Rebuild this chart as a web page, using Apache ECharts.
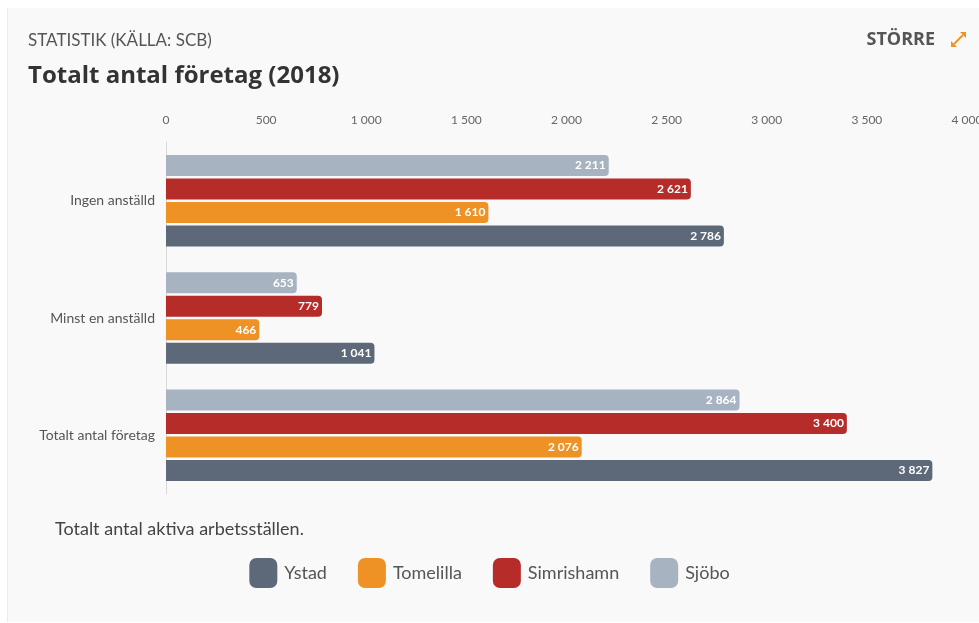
<!DOCTYPE html>
<html>
<head>
<meta charset="utf-8">
<script src="https://cdn.jsdelivr.net/npm/echarts@6/dist/echarts.min.js"></script>
<style>
html,body{margin:0;padding:0;background:#ffffff;overflow:hidden;}
#panel{position:absolute;left:7px;top:8px;width:972px;height:614px;background:#f9f9fa;border-left:1px solid #ececee;box-sizing:border-box;}
#chart{position:absolute;left:0;top:0;width:979px;height:623px;}
</style>
</head>
<body>
<div id="panel"></div>
<div id="chart"></div>
<script>
const categories = ['Ingen anställd', 'Minst en anställd', 'Totalt antal företag'];
const seriesNames = ['Ystad', 'Tomelilla', 'Simrishamn', 'Sjöbo'];
const ystad = [2786, 1041, 3827];
const tomelilla = [1610, 466, 2076];
const simrishamn = [2621, 779, 3400];
const sjobo = [2211, 653, 2864];
const colors = {Ystad: '#5d6978', Tomelilla: '#ee9226', Simrishamn: '#b52c28', 'Sjöbo': '#a8b3c1'};
const FONT = 'Lato, "Open Sans", sans-serif';

function fmt(v) {
  return String(v).replace(/\B(?=(\d{3})+(?!\d))/g, ' ');
}

const values = {Ystad: ystad, Tomelilla: tomelilla, Simrishamn: simrishamn, 'Sjöbo': sjobo};
const chart = echarts.init(document.getElementById('chart'), null, {renderer: 'canvas'});

// drawn top-to-bottom within each group: Sjöbo, Simrishamn, Tomelilla, Ystad
const drawOrder = ['Sjöbo', 'Simrishamn', 'Tomelilla', 'Ystad'];
const series = drawOrder.map(name => ({
  name: name,
  type: 'bar',
  data: values[name],
  barWidth: 21,
  barGap: '12%',
  itemStyle: {color: colors[name], borderRadius: [0, 4, 4, 0]},
  label: {
    show: true,
    position: 'insideRight',
    distance: 3,
    color: '#ffffff',
    fontSize: 12,
    fontWeight: 'bold',
    fontFamily: FONT,
    formatter: p => fmt(p.value)
  }
}));

chart.setOption({
  backgroundColor: 'transparent',
  textStyle: {fontFamily: FONT},
  title: [
    {text: 'STATISTIK (KÄLLA: SCB)', left: 23, top: 27, textStyle: {fontSize: 17, fontWeight: 'normal', color: '#555', fontFamily: FONT}},
    {text: 'Totalt antal företag (2018)', left: 23, top: 59, textStyle: {fontSize: 24, fontWeight: 'bold', color: '#333', fontFamily: '"Open Sans", sans-serif'}},
    {text: 'STÖRRE', right: 39, top: 26, textStyle: {fontSize: 18, fontWeight: 'bold', color: '#555', fontFamily: '"Open Sans", sans-serif'}},
    {text: 'Totalt antal aktiva arbetsställen.', left: 50, top: 515, textStyle: {fontSize: 18, fontWeight: 'normal', color: '#444', fontFamily: FONT}}
  ],
  graphic: [
    {type: 'line', shape: {x1: 954, y1: 44, x2: 963, y2: 35}, style: {stroke: '#ee9226', lineWidth: 1.8}},
    {type: 'polygon', shape: {points: [[960, 32], [966, 32], [966, 38]]}, style: {fill: '#ee9226'}},
    {type: 'polygon', shape: {points: [[951, 41], [951, 47], [957, 47]]}, style: {fill: '#ee9226'}}
  ],
  legend: {
    data: seriesNames,
    bottom: 30,
    left: 'center',
    itemWidth: 28,
    itemHeight: 30,
    itemGap: 31,
    icon: 'roundRect',
    textStyle: {fontSize: 18, color: '#555', fontFamily: FONT, padding: [0, 0, 0, 2]}
  },
  grid: {left: 166, right: 12, top: 142, bottom: 129, containLabel: false, outerBoundsMode: 'none'},
  xAxis: {
    type: 'value',
    position: 'top',
    min: 0,
    max: 4000,
    interval: 500,
    axisLine: {show: false},
    axisTick: {show: false},
    splitLine: {show: false},
    axisLabel: {color: '#666', fontSize: 12, margin: 16, formatter: v => fmt(v), fontFamily: FONT}
  },
  yAxis: {
    type: 'category',
    data: categories,
    inverse: true,
    axisLine: {show: true, lineStyle: {color: '#d8d8d8'}},
    axisTick: {show: false},
    axisLabel: {color: '#555', fontSize: 14, margin: 11, fontFamily: FONT}
  },
  series: series
});
</script>
</body>
</html>
